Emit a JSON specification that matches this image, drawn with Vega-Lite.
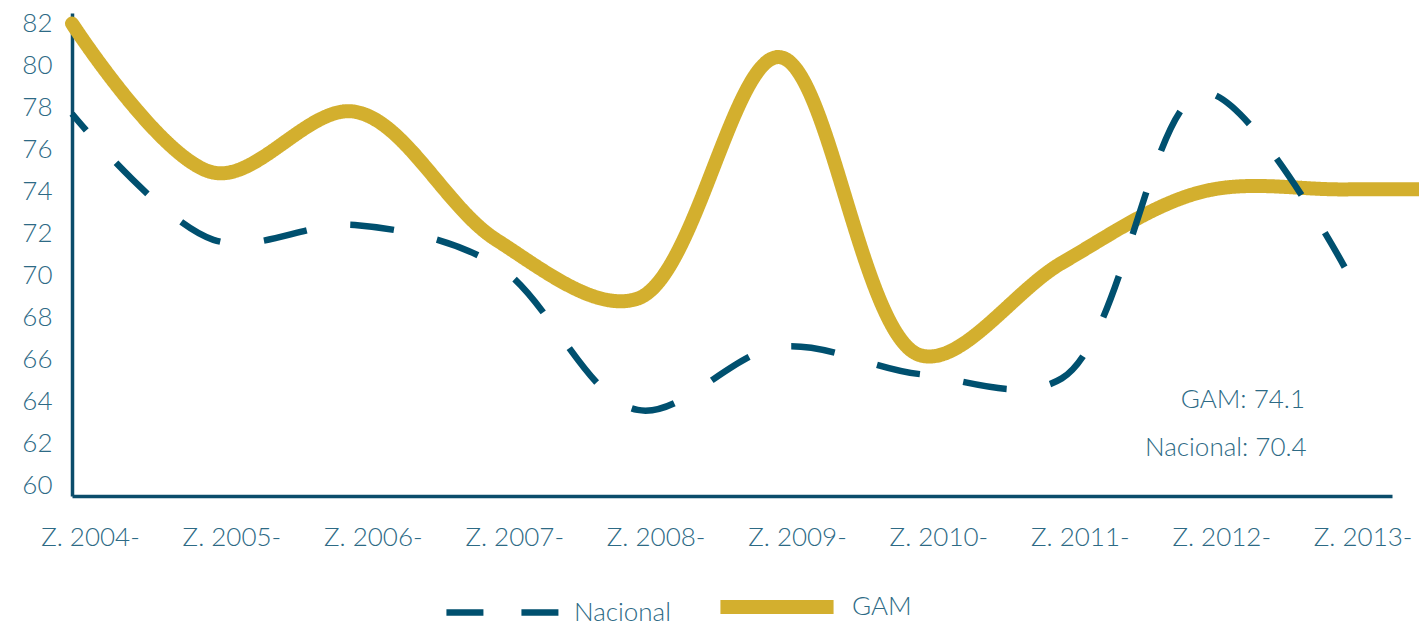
{
  "$schema": "https://vega.github.io/schema/vega-lite/v6.json",
  "width": 1320,
  "height": 483,
  "autosize": {"type": "none"},
  "padding": {"left": 72, "top": 13, "right": 27, "bottom": 128},
  "background": "white",
  "config": {
    "view": {"stroke": null},
    "font": "Lato"
  },
  "datasets": {
    "series": [
      {"serie": "GAM", "year": 2004, "value": 82.0},
      {"serie": "GAM", "year": 2005, "value": 74.9},
      {"serie": "GAM", "year": 2006, "value": 77.8},
      {"serie": "GAM", "year": 2007, "value": 71.7},
      {"serie": "GAM", "year": 2008, "value": 68.9},
      {"serie": "GAM", "year": 2009, "value": 80.4},
      {"serie": "GAM", "year": 2010, "value": 66.2},
      {"serie": "GAM", "year": 2011, "value": 70.6},
      {"serie": "GAM", "year": 2012, "value": 74.0},
      {"serie": "GAM", "year": 2013, "value": 74.1},
      {"serie": "GAM", "year": 2014, "value": 74.1},
      {"serie": "Nacional", "year": 2004, "value": 77.7},
      {"serie": "Nacional", "year": 2005, "value": 71.7},
      {"serie": "Nacional", "year": 2006, "value": 72.4},
      {"serie": "Nacional", "year": 2007, "value": 70.5},
      {"serie": "Nacional", "year": 2008, "value": 63.6},
      {"serie": "Nacional", "year": 2009, "value": 66.6},
      {"serie": "Nacional", "year": 2010, "value": 65.3},
      {"serie": "Nacional", "year": 2011, "value": 65.1},
      {"serie": "Nacional", "year": 2012, "value": 78.7},
      {"serie": "Nacional", "year": 2013, "value": 70.4}
    ],
    "notes": [
      {"label": "GAM: 74.1", "nx": 2012.28, "ny": 64.07},
      {"label": "Nacional: 70.4", "nx": 2012.16, "ny": 61.79}
    ]
  },
  "layer": [
    {
      "data": {"name": "series"},
      "transform": [{"filter": "datum.serie === 'GAM'"}],
      "mark": {"type": "line", "interpolate": "catmull-rom", "strokeCap": "round", "clip": false},
      "encoding": {
        "x": {
          "field": "year",
          "type": "quantitative",
          "scale": {"domain": [2004, 2013.335], "nice": false, "zero": false},
          "axis": {
            "title": null,
            "values": [2004, 2005, 2006, 2007, 2008, 2009, 2010, 2011, 2012, 2013],
            "labelExpr": "'Z. ' + datum.value + '-'",
            "ticks": false,
            "grid": false,
            "domainColor": "#0b4d6b",
            "domainWidth": 3.5,
            "labelFont": "Lato",
            "labelFontWeight": 300,
            "labelFontSize": 26,
            "labelColor": "#2d6a85",
            "labelPadding": 28,
            "labelOffset": 18,
            "labelOverlap": false,
            "labelFlush": false
          }
        },
        "y": {
          "field": "value",
          "type": "quantitative",
          "scale": {"domain": [59.5, 82.5], "nice": false, "zero": false},
          "axis": {
            "title": null,
            "values": [60, 62, 64, 66, 68, 70, 72, 74, 76, 78, 80, 82],
            "ticks": false,
            "grid": false,
            "domainColor": "#0b4d6b",
            "domainWidth": 3.5,
            "labelFont": "Lato",
            "labelFontWeight": 300,
            "labelFontSize": 26,
            "labelColor": "#2d6a85",
            "labelPadding": 20
          }
        },
        "color": {
          "field": "serie",
          "type": "nominal",
          "scale": {"domain": ["Nacional", "GAM"], "range": ["#00506f", "#d3af2e"]},
          "legend": {
            "title": null,
            "orient": "none",
            "legendX": 371,
            "legendY": 530,
            "direction": "horizontal",
            "symbolType": "stroke",
            "symbolSize": 12800,
            "labelFont": "Lato",
            "labelFontWeight": 300,
            "labelFontSize": 26,
            "labelColor": "#2d6a85",
            "labelOffset": 11,
            "columnPadding": 21
          }
        },
        "strokeDash": {
          "field": "serie",
          "type": "nominal",
          "scale": {"domain": ["Nacional", "GAM"], "range": [[37, 38], [1, 0]]}
        },
        "strokeWidth": {
          "field": "serie",
          "type": "nominal",
          "scale": {"domain": ["Nacional", "GAM"], "range": [6.5, 14]}
        }
      }
    },
    {
      "data": {"name": "series"},
      "transform": [{"filter": "datum.serie === 'Nacional'"}],
      "mark": {"type": "line", "interpolate": "catmull-rom", "strokeCap": "butt", "strokeDash": [44, 44], "strokeDashOffset": 22, "clip": false},
      "encoding": {
        "x": {"field": "year", "type": "quantitative"},
        "y": {"field": "value", "type": "quantitative"},
        "color": {"field": "serie", "type": "nominal"},
        "strokeWidth": {"field": "serie", "type": "nominal"}
      }
    },
    {
      "data": {"name": "notes"},
      "mark": {"type": "text", "font": "Lato", "fontWeight": 300, "fontSize": 26, "fill": "#2d6a85", "align": "center", "baseline": "middle"},
      "encoding": {
        "x": {"field": "nx", "type": "quantitative"},
        "y": {"field": "ny", "type": "quantitative"},
        "text": {"field": "label", "type": "nominal"}
      }
    }
  ]
}
